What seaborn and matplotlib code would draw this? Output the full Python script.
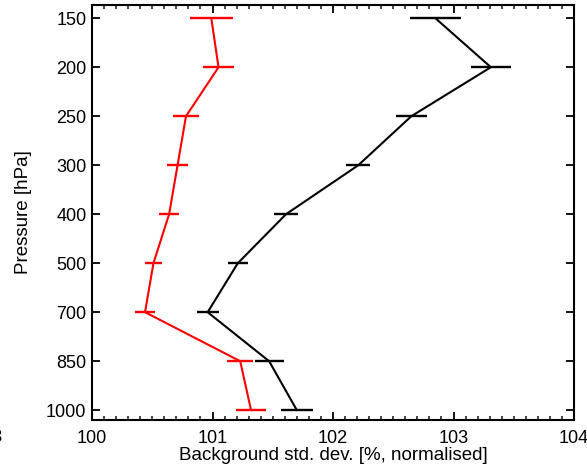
import numpy as np
import pandas as pd
import matplotlib
matplotlib.use("Agg")
import matplotlib.pyplot as plt
import seaborn as sns
from matplotlib.ticker import MultipleLocator

# ---- data ----
levels = ["150", "200", "250", "300", "400", "500", "700", "850", "1000"]
red_vals = [100.99, 101.05, 100.78, 100.71, 100.64, 100.51, 100.44, 101.23, 101.32]
red_err = [0.18, 0.125, 0.11, 0.09, 0.08, 0.07, 0.08, 0.11, 0.125]
black_vals = [102.85, 103.31, 102.65, 102.21, 101.61, 101.21, 100.96, 101.47, 101.70]
black_err = [0.21, 0.165, 0.13, 0.10, 0.10, 0.085, 0.09, 0.12, 0.13]
x_ticks = [100, 101, 102, 103, 104]

sns.set_theme(style="ticks")
plt.rcParams["font.family"] = ["Liberation Sans", "DejaVu Sans"]
plt.rcParams["text.color"] = "black"
plt.rcParams["axes.labelcolor"] = "black"

pos = np.arange(len(levels))
df = pd.DataFrame({
    "pos": np.concatenate([pos, pos]),
    "val": red_vals + black_vals,
    "err": red_err + black_err,
    "series": ["red"] * len(levels) + ["black"] * len(levels),
})

fig = plt.figure(figsize=(5.87, 4.68), dpi=100)
ax = fig.add_axes([92 / 587, 1 - 420 / 468, (574 - 92) / 587, (420 - 5) / 468])

palette = {"red": "#ff0000", "black": "#000000"}
sns.lineplot(data=df, x="val", y="pos", hue="series", palette=palette,
             orient="y", sort=False, estimator=None, linewidth=1.5,
             legend=False, ax=ax)
for name, sub in df.groupby("series"):
    ax.hlines(sub["pos"], sub["val"] - sub["err"], sub["val"] + sub["err"],
              color=palette[name], linewidth=1.7)

ax.set_xlim(100, 104)
ax.set_ylim(8.2, -0.27)
ax.set_xticks(x_ticks)
ax.set_xticklabels([str(t) for t in x_ticks])
ax.xaxis.set_minor_locator(MultipleLocator(0.1))
ax.set_yticks(pos)
ax.set_yticklabels(levels)

ax.tick_params(axis="both", which="major", direction="in", length=6, width=1.3,
               labelsize=13, colors="black", top=True, right=True)
ax.tick_params(axis="x", which="minor", direction="in", length=3, width=1.2,
               top=True, bottom=True)
ax.tick_params(axis="x", which="major", pad=7.5)
ax.tick_params(axis="y", which="major", pad=4)
for s in ax.spines.values():
    s.set_linewidth(1.5)
    s.set_color("black")

ax.set_xlabel("Background std. dev. [%, normalised]", fontsize=13.5, labelpad=0)
ax.set_ylabel("Pressure [hPa]", fontsize=13.5, labelpad=10)

fig.text(3 / 587, 1 - 438 / 468, "103", ha="right", va="center", fontsize=13)

fig.savefig("out.png", dpi=100)
